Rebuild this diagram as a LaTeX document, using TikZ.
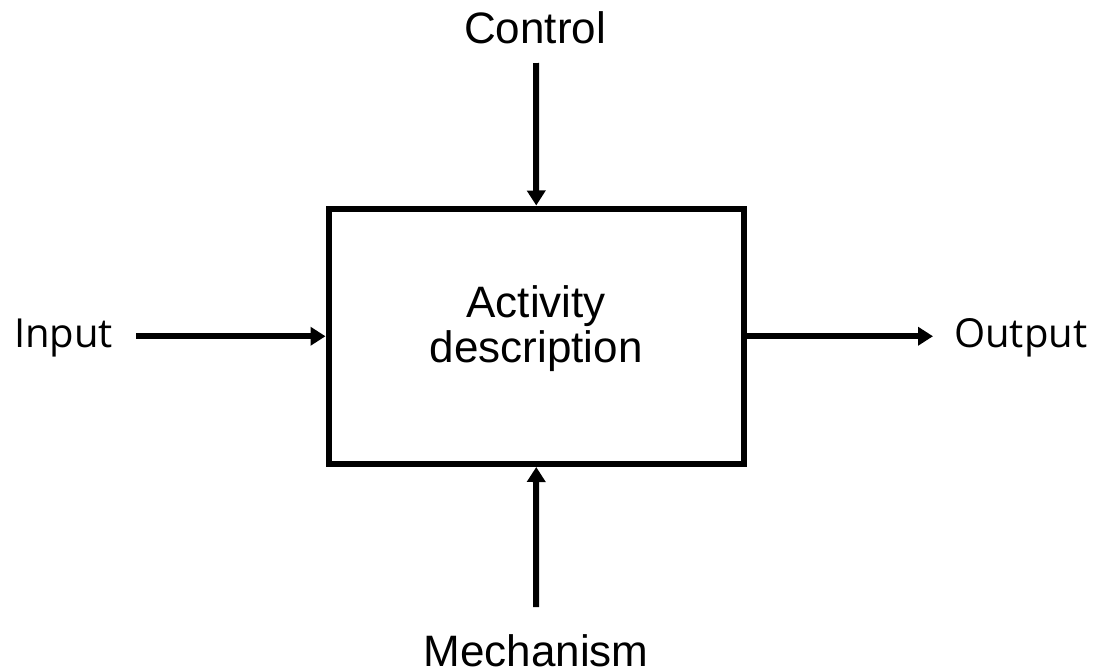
\documentclass[tikz,border=0pt]{standalone}
\usepackage{fontspec}
\setmainfont{Liberation Sans}
\newfontfamily\sideFont{Open Sans}
\usetikzlibrary{arrows.meta}
\tikzset{
  lbl/.style={inner sep=0pt, font=\fontsize{44}{46}\selectfont},
  sidelbl/.style={inner sep=0pt, font=\sideFont\fontsize{40}{44}\selectfont},
  activity/.style={draw, line width=6pt, minimum width=415.5pt, minimum height=255.5pt,
    align=center, text depth=25pt, font=\fontsize{44}{45}\selectfont},
  arr/.style={line width=6pt, -{Triangle[width=18pt,length=15pt]}}
}
\begin{document}
\begin{tikzpicture}[x=1pt,y=-1pt]
\useasboundingbox (0,0) rectangle (1096,670);
\node[activity] (box) at (536.25,336.25) {Activity\\description};
\node[lbl, anchor=base] (ctrl) at (535,43) {Control};
\node[lbl, anchor=base] (mech) at (536,666) {Mechanism};
\node[sidelbl, anchor=base west] (inp) at (14,347) {Input};
\node[sidelbl, anchor=base west] (outp) at (954,347) {Output};
\coordinate (ctop) at (536,63);
\coordinate (mbot) at (536,607);
\coordinate (istart) at (136,336.25);
\coordinate (oend) at (933,336.25);
\draw[arr] (ctop) -- (box.north);
\draw[arr] (mbot) -- (box.south);
\draw[arr] (istart) -- (box.west);
\draw[arr] (box.east) -- (oend);
\end{tikzpicture}
\end{document}
